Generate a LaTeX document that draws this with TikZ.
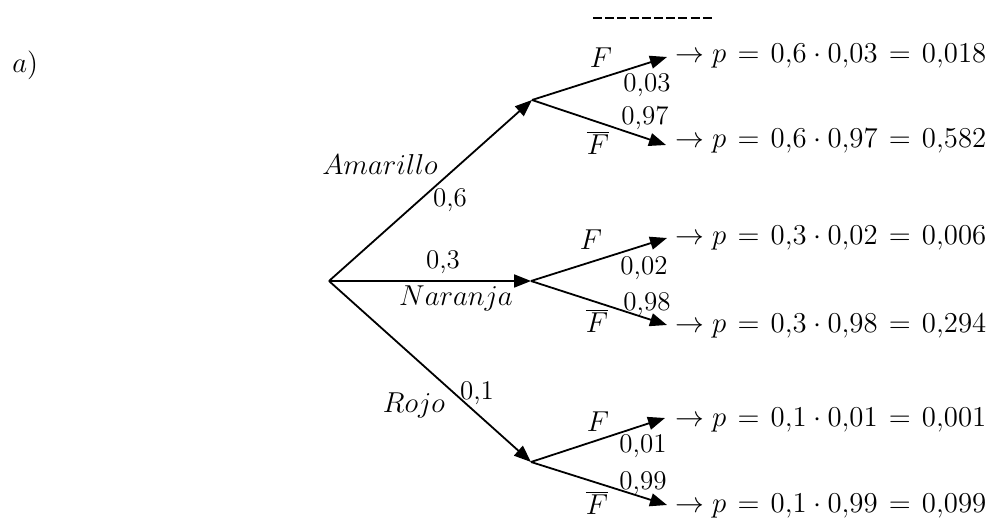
\documentclass[tikz,border=0pt]{standalone}
\usepackage{tikz}
\usetikzlibrary{arrows.meta}

\newcommand{\eqsp}{\mskip2mu=\mskip2mu}

\begin{document}
\begin{tikzpicture}[
  x=0.5pt, y=-0.5pt,
  every node/.style={font=\fontsize{13.5}{16}\selectfont, inner sep=0pt},
  arr/.style={-{Triangle[length=8.5pt,width=6.5pt]}, line width=0.9pt},
  lbl/.style={anchor=base},
  res/.style={anchor=base west}
]
\useasboundingbox (0,0) rectangle (992,518);

\node[anchor=base west] (part) at (12,73) {$a)$};
\coordinate (dashL) at (593,18);
\coordinate (dashR) at (714,18);
\draw[line width=1pt, dash pattern=on 4.5pt off 1.6pt] (dashL) -- (dashR);

\coordinate (root) at (329,281);
\coordinate (am) at (532,100);
\coordinate (na) at (531,281);
\coordinate (ro) at (531,462);
\coordinate (amF) at (667,57);
\coordinate (amN) at (666,145);
\coordinate (naF) at (667,238);
\coordinate (naN) at (667,325);
\coordinate (roF) at (665,418);
\coordinate (roN) at (667,505);

\draw[arr] (root) -- (am);
\draw[arr] (root) -- (na);
\draw[arr] (root) -- (ro);
\draw[arr] (am) -- (amF);
\draw[arr] (am) -- (amN);
\draw[arr] (na) -- (naF);
\draw[arr] (na) -- (naN);
\draw[arr] (ro) -- (roF);
\draw[arr] (ro) -- (roN);

\node[lbl] (lAm) at (380,175) {$Amarillo$};
\node[lbl] (pAm) at (450,207) {0,6};
\node[lbl] (pNa) at (443,269) {0,3};
\node[lbl] (lNa) at (456,306) {$Naranja$};
\node[lbl] (pRo) at (477,400) {0,1};
\node[lbl] (lRo) at (414,413) {$Rojo$};

\node[lbl] (fAm) at (601,68) {$F$};
\node[lbl] (qAmF) at (647,92) {0,03};
\node[lbl] (qAmN) at (645,125) {0,97};
\node[lbl] (gAm) at (598,155) {$\overline{F}$};
\node[lbl] (fNa) at (591,250) {$F$};
\node[lbl] (qNaF) at (644,275) {0,02};
\node[lbl] (qNaN) at (647,311) {0,98};
\node[lbl] (gNa) at (597,333) {$\overline{F}$};
\node[lbl] (fRo) at (598,432) {$F$};
\node[lbl] (qRoF) at (643,453) {0,01};
\node[lbl] (qRoN) at (643,490) {0,99};
\node[lbl] (gRo) at (597,515) {$\overline{F}$};

\node[res] (rAmF) at (675,63) {$\to p \eqsp 0{,}6 \cdot 0{,}03 \eqsp 0{,}018$};
\node[res] (rAmN) at (675,148) {$\to p \eqsp 0{,}6 \cdot 0{,}97 \eqsp 0{,}582$};
\node[res] (rNaF) at (675,245) {$\to p \eqsp 0{,}3 \cdot 0{,}02 \eqsp 0{,}006$};
\node[res] (rNaN) at (675,333) {$\to p \eqsp 0{,}3 \cdot 0{,}98 \eqsp 0{,}294$};
\node[res] (rRoF) at (675,427) {$\to p \eqsp 0{,}1 \cdot 0{,}01 \eqsp 0{,}001$};
\node[res] (rRoN) at (675,513) {$\to p \eqsp 0{,}1 \cdot 0{,}99 \eqsp 0{,}099$};
\end{tikzpicture}
\end{document}
